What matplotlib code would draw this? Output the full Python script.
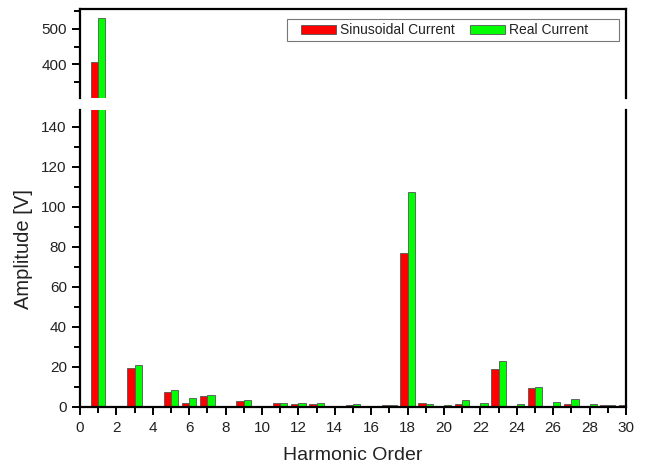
import numpy as np
import matplotlib
matplotlib.use("Agg")
import matplotlib.pyplot as plt
from matplotlib.ticker import MultipleLocator
from matplotlib.patches import Rectangle

plt.rcParams['font.family'] = ['Liberation Sans', 'DejaVu Sans']

# harmonic orders and amplitudes
harmonics = np.arange(1, 31)
sinusoidal = [406, 0, 19.5, 0, 7.7, 1.8, 5.5, 0, 3.2, 0,
              2.0, 1.7, 1.7, 0, 1.0, 0, 1.0, 77.0, 2.1, 0,
              1.3, 0, 19.2, 0.7, 9.5, 0.3, 1.7, 0.3, 1.0, 1.0]
real = [532, 0, 21.2, 0, 8.4, 4.7, 5.9, 0, 3.5, 0,
        2.0, 2.1, 2.1, 0, 1.5, 0, 1.0, 107.5, 1.3, 1.0,
        3.3, 2.0, 23.2, 1.3, 9.9, 2.3, 3.8, 1.7, 0.8, 0]

txt = '#222222'
w = 0.4
W, H = 645, 469
fig = plt.figure(figsize=(6.45, 4.69), dpi=100)
ax_top = fig.add_axes([0.124, 0.791, 0.8465, 0.1898])
ax_bot = fig.add_axes([0.124, 0.1322, 0.8465, 0.6333])

for ax in (ax_top, ax_bot):
    ax.bar(harmonics - w / 2, sinusoidal, width=w, color='#ff0000',
           edgecolor='#555555', linewidth=0.6, label='Sinusoidal Current')
    ax.bar(harmonics + w / 2, real, width=w, color='#00ff00',
           edgecolor='#555555', linewidth=0.6, label='Real Current')
    ax.set_xlim(0, 30)
    for s in ax.spines.values():
        s.set_linewidth(1.6)
    ax.tick_params(which='both', direction='out', width=1.4, colors='black',
                   labelcolor=txt, labelsize=11)
    ax.tick_params(which='major', length=6)
    ax.tick_params(which='minor', length=4)

ax_top.set_ylim(303, 557)
ax_top.yaxis.set_major_locator(MultipleLocator(100))
ax_top.yaxis.set_minor_locator(MultipleLocator(50))
ax_top.spines['bottom'].set_visible(False)
ax_top.tick_params(axis='x', which='both', bottom=False, labelbottom=False)

ax_bot.set_ylim(0, 148.5)
ax_bot.yaxis.set_major_locator(MultipleLocator(20))
ax_bot.yaxis.set_minor_locator(MultipleLocator(10))
ax_bot.xaxis.set_major_locator(MultipleLocator(2))
ax_bot.xaxis.set_minor_locator(MultipleLocator(1))
ax_bot.spines['top'].set_visible(False)
ax_bot.tick_params(axis='x', pad=4)

ax_bot.set_xlabel('Harmonic Order', fontsize=14, color=txt, labelpad=9)
fig.text(0.036, 0.47, 'Amplitude [V]', rotation=90, fontsize=14.5,
         color=txt, ha='center', va='center')

# legend box drawn separately (it is wider than its contents)
fig.add_artist(Rectangle((287 / W, 1 - 41 / H), 332 / W, 22 / H,
                         transform=fig.transFigure, facecolor='white',
                         edgecolor='#777777', linewidth=0.8, zorder=5))
handles, labels = ax_top.get_legend_handles_labels()
leg = fig.legend(handles, labels, loc='center left', ncol=2, fontsize=10,
                 bbox_to_anchor=(301 / W, 1 - 30.5 / H),
                 bbox_transform=fig.transFigure, borderaxespad=0,
                 frameon=False, borderpad=0,
                 handlelength=2.5, handleheight=0.7, handletextpad=0.3,
                 columnspacing=1.1)
leg.set_zorder(6)
for t in leg.get_texts():
    t.set_color(txt)

fig.savefig('out.png', dpi=100)
